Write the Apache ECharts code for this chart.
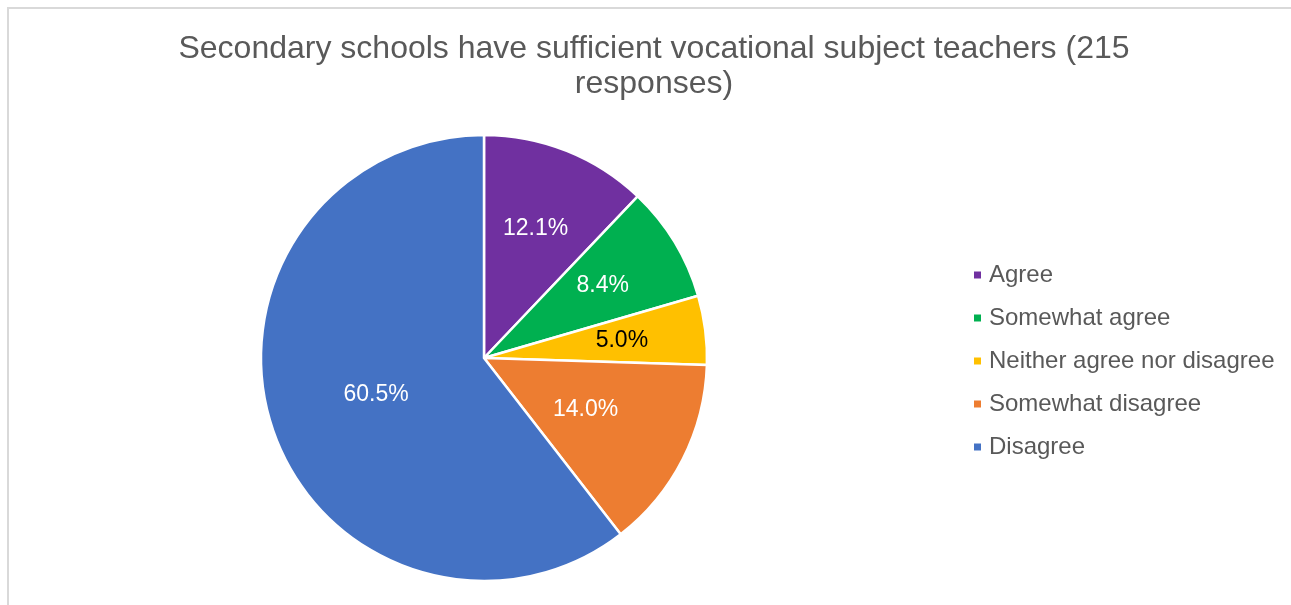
<!DOCTYPE html>
<html>
<head>
<meta charset="utf-8">
<title>Secondary schools have sufficient vocational subject teachers</title>
<script src="https://cdn.jsdelivr.net/npm/echarts@6/dist/echarts.min.js"></script>
<style>
  html, body { margin: 0; padding: 0; background: #ffffff; overflow: hidden; }
  #chart { position: absolute; left: 0; top: 0; width: 1308px; height: 605px; }
</style>
</head>
<body>
<div id="chart"></div>
<script>
// Survey answers, share of responses in percent
const titleText = 'Secondary schools have sufficient vocational subject teachers (215\nresponses)';
const categories = ['Agree', 'Somewhat agree', 'Neither agree nor disagree', 'Somewhat disagree', 'Disagree'];
const shares = [12.1, 8.4, 5.0, 14.0, 60.5];
const sliceColors = ['#7030A0', '#00B050', '#FFC000', '#ED7D31', '#4472C4'];
const labelColors = ['#ffffff', '#ffffff', '#000000', '#ffffff', '#ffffff'];

const FONT = '"Liberation Sans", Arial, sans-serif';
const CENTER = [484, 358];
const RADIUS = 223;

const pieData = categories.map((name, i) => ({
  name: name,
  value: shares[i],
  itemStyle: { color: sliceColors[i] }
}));

// Transparent twin ring holding the percentage labels; its outer radius sets
// how far from the centre the labels sit (labels land at half that radius).
function labelRing(outerRadius, shownNames) {
  return {
    type: 'pie',
    center: CENTER,
    radius: [0, outerRadius],
    startAngle: 90,
    clockwise: true,
    silent: true,
    data: categories.map((name, i) => ({
      name: name,
      value: shares[i],
      label: { show: shownNames.includes(name), color: labelColors[i] }
    })),
    itemStyle: { color: 'rgba(0,0,0,0)', borderWidth: 0 },
    label: {
      position: 'inside',
      fontFamily: FONT,
      fontSize: 23,
      padding: [11, 0, 0, 0],
      formatter: p => p.value.toFixed(1) + '%'
    },
    labelLine: { show: false },
    emphasis: { disabled: true },
    z: 3
  };
}

const chart = echarts.init(document.getElementById('chart'), null, { renderer: 'canvas' });

chart.setOption({
  backgroundColor: '#ffffff',
  animation: false,
  title: {
    text: titleText,
    left: 'center',
    top: 32,
    padding: 0,
    textStyle: {
      fontFamily: FONT,
      fontSize: 32,
      fontWeight: 'normal',
      color: '#595959',
      lineHeight: 35
    }
  },
  legend: {
    orient: 'vertical',
    left: 974,
    top: 263,
    padding: 0,
    itemWidth: 7,
    itemHeight: 7,
    itemGap: 19,
    icon: 'rect',
    itemStyle: { borderWidth: 0 },
    data: categories.map((name, i) => ({ name: name, itemStyle: { color: sliceColors[i], borderWidth: 0 } })),
    textStyle: {
      fontFamily: FONT,
      fontSize: 24,
      lineHeight: 24,
      color: '#595959',
      padding: [0, 0, 0, 3]
    },
    selectedMode: false
  },
  graphic: [{
    type: 'rect',
    shape: { x: 8, y: 8, width: 1400, height: 700 },
    style: { fill: 'none', stroke: '#d9d9d9', lineWidth: 2 },
    silent: true,
    z: 0
  }],
  series: [
    {
      name: 'Responses',
      type: 'pie',
      center: CENTER,
      radius: [0, RADIUS],
      startAngle: 90,
      clockwise: true,
      data: pieData,
      itemStyle: { borderColor: '#ffffff', borderWidth: 2.5 },
      label: { show: false },
      labelLine: { show: false },
      emphasis: { disabled: true }
    },
    labelRing(272, ['Agree', 'Somewhat agree', 'Neither agree nor disagree']),
    labelRing(222, ['Somewhat disagree', 'Disagree'])
  ]
});
</script>
</body>
</html>
